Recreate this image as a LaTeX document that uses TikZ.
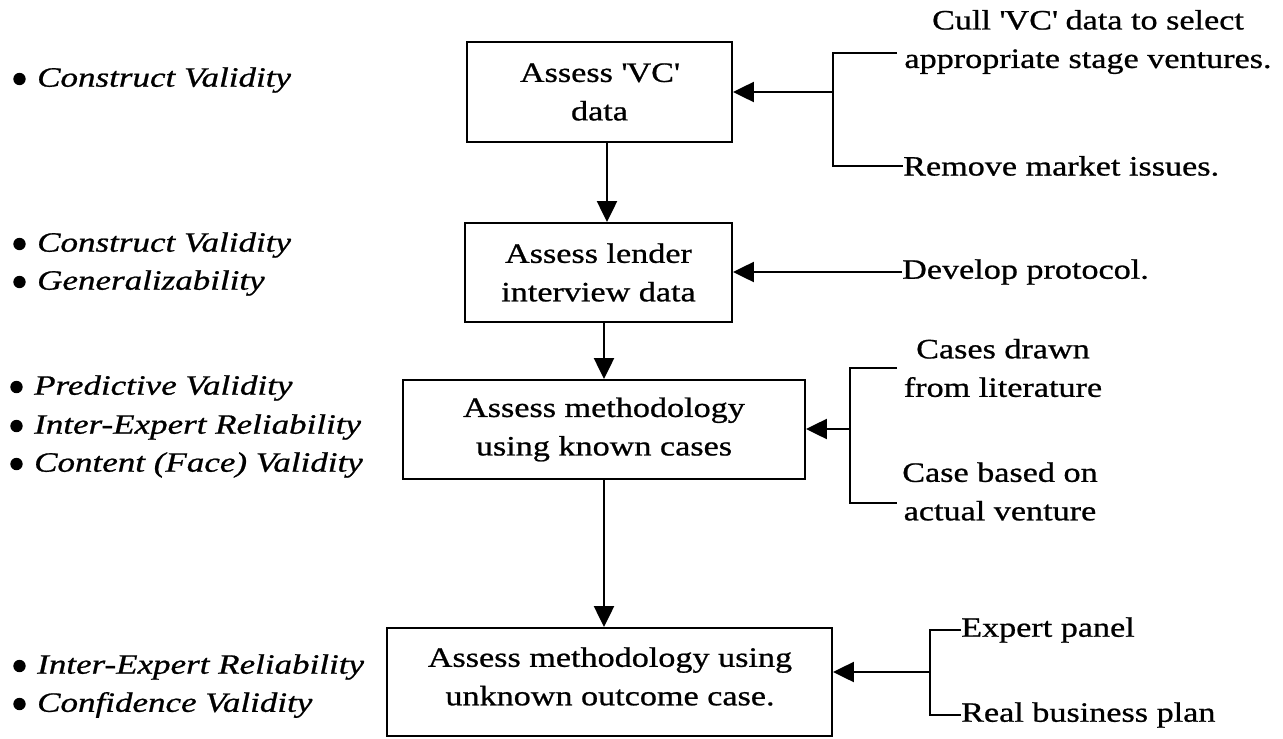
\documentclass[tikz,border=0pt]{standalone}
\usepackage{fontspec}
\setmainfont{Liberation Serif}[FakeStretch=1.22, FakeBold=0.8,
  ItalicFeatures={FakeStretch=1.25}]
\usetikzlibrary{arrows.meta}
\begin{document}
\begin{tikzpicture}[x=1pt,y=-1pt,
  box/.style={draw, line width=1.9pt, inner sep=0pt, align=center,
    font=\fontsize{28}{38.5}\selectfont},
  txt/.style={inner sep=0pt, align=center, font=\fontsize{28}{38.5}\selectfont},
  lbl/.style={inner sep=0pt, anchor=west,
    font=\fontsize{28}{38.5}\selectfont\itshape},
  dot/.style={fill=black},
  flow/.style={line width=2.3pt, -{Triangle[length=21pt,width=20pt]}},
  brk/.style={line width=1.7pt},
]
\useasboundingbox (0,0) rectangle (1283,739);

% main process boxes
\node[box, minimum width=265pt, minimum height=100pt] (b1) at (599.5,92)
  {Assess \textquotesingle VC\textquotesingle\\data};
\node[box, minimum width=267pt, minimum height=99pt] (b2) at (598.5,272.5)
  {Assess lender\\interview data};
\node[box, minimum width=402pt, minimum height=99pt] (b3) at (604,429.5)
  {Assess methodology\\using known cases};
\node[box, minimum width=445pt, minimum height=108pt] (b4) at (609.5,682) {};
\node[txt] (t4) at (610,676.5) {Assess methodology using\\unknown outcome case.};

% downward flow
\coordinate (c12) at (607,0);
\coordinate (c23) at (604,0);
\draw[flow] (b1.south -| c12) -- (b2.north -| c12);
\draw[flow] (b2.south -| c23) -- (b3.north -| c23);
\draw[flow] (b3.south -| c23) -- (b4.north -| c23);

% inputs to step 1
\node[txt] (r1a) at (1088,42) {Cull \textquotesingle VC\textquotesingle{} data to select\\appropriate stage ventures.};
\node[txt, anchor=west] (r1b) at (903,166) {Remove market issues.};
\coordinate (k1) at (833,92);
\coordinate (k1t) at (897,53);
\draw[brk] (k1t) -- (k1t -| k1) -- (k1 |- r1b.west) -- (r1b.west);
\draw[flow] (k1) -- (b1.east |- k1);

% input to step 2
\node[txt, anchor=west] (r2) at (902,272) {Develop protocol.};
\draw[flow] (r2.west) -- (b2.east |- r2.west);

% inputs to step 3
\node[txt] (r3a) at (1003,368) {Cases drawn\\from literature};
\node[txt] (r3b) at (1000,491.5) {Case based on\\actual venture};
\coordinate (k3) at (850,429);
\coordinate (k3t) at (897,368);
\coordinate (k3b) at (897,503);
\draw[brk] (k3t) -- (k3t -| k3) -- (k3b -| k3) -- (k3b);
\draw[flow] (k3) -- (b3.east |- k3);

% inputs to step 4
\node[txt, anchor=west] (r4a) at (961,630) {Expert panel};
\node[txt, anchor=west] (r4b) at (961,715) {Real business plan};
\coordinate (k4) at (930,672);
\draw[brk] (r4a.west) -- (r4a.west -| k4) -- (r4b.west -| k4) -- (r4b.west);
\draw[flow] (k4) -- (b4.east |- k4);

% validity criteria, one bulleted line each
\node[lbl] (v1)  at (37,80)  {Construct Validity};
\node[lbl] (v2a) at (37,245) {Construct Validity};
\node[lbl] (v2b) at (37,283) {Generalizability};
\node[lbl] (v3a) at (34,388) {Predictive Validity};
\node[lbl] (v3b) at (34,427) {Inter-Expert Reliability};
\node[lbl] (v3c) at (34,465) {Content (Face) Validity};
\node[lbl] (v4a) at (37,667) {Inter-Expert Reliability};
\node[lbl] (v4b) at (37,705) {Confidence Validity};
\foreach \v in {v1, v2a, v2b, v3a, v3b, v3c, v4a, v4b}
  \fill[dot] ([xshift=-17.5pt, yshift=1pt]\v.west) circle[radius=6.2];
\end{tikzpicture}
\end{document}
